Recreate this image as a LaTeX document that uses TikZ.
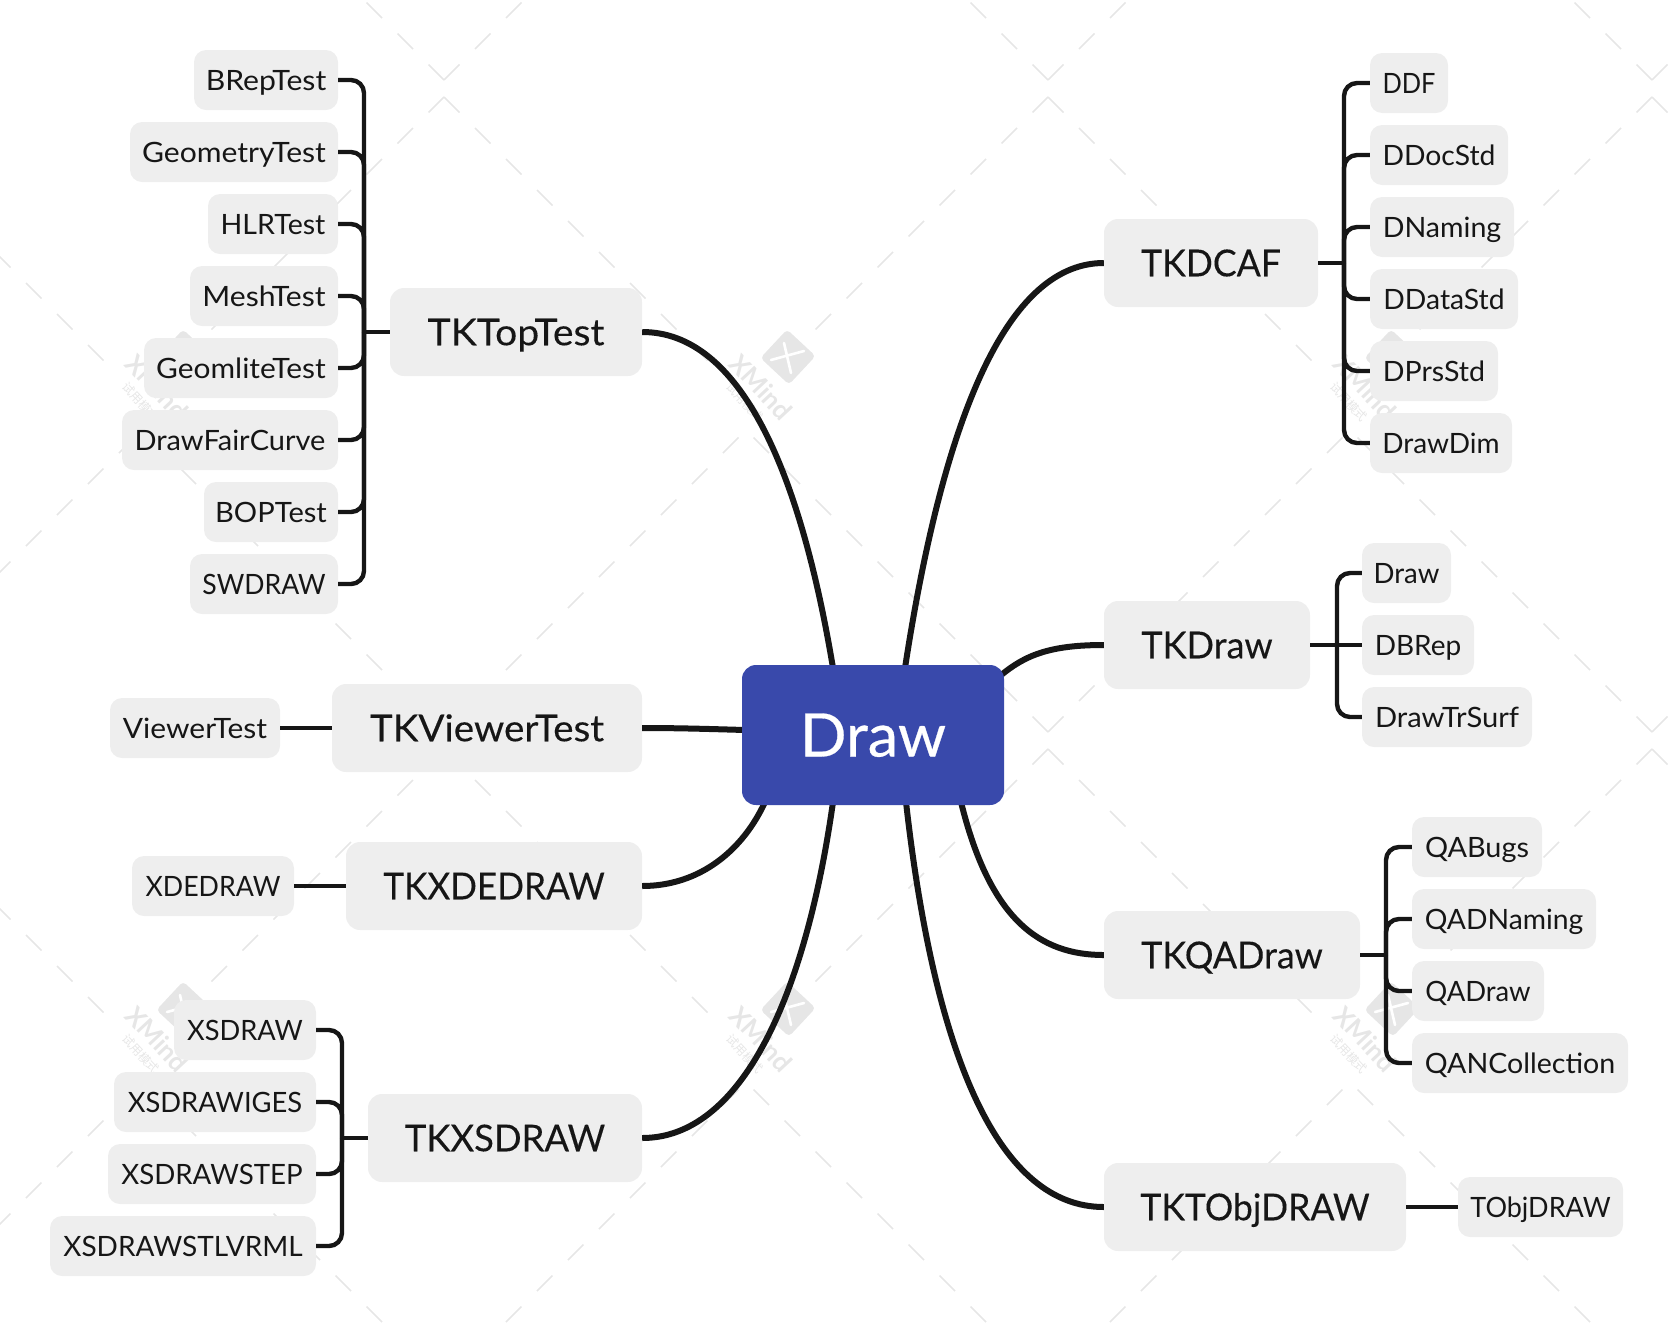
\documentclass[tikz,border=0pt]{standalone}
\usepackage{fontspec}
\setmainfont{Lato}
\newfontfamily\cjkwm{Noto Sans CJK SC}
\newfontfamily\rootfont{Lato}[FakeBold=0.5]
\newfontfamily\mainfontb{Lato}[FakeBold=0.15]
\definecolor{nodegray}{HTML}{EEEEEE}
\definecolor{inkdark}{HTML}{161616}
\definecolor{rootblue}{HTML}{3949AB}
\definecolor{wmgray}{HTML}{E6E6E6}
\tikzset{
  subnode/.style={fill=nodegray,rounded corners=12pt,inner sep=0pt,text=inkdark,text height=20pt,text depth=0pt,font=\fontsize{28}{32}\selectfont},
  mainnode/.style={fill=nodegray,rounded corners=14pt,inner sep=0pt,text=inkdark,text height=26.5pt,text depth=0pt,font=\fontsize{37}{42}\mainfontb},
  rootnode/.style={fill=rootblue,rounded corners=14pt,inner sep=0pt,text=white,text height=43pt,text depth=0pt,font=\fontsize{60}{66}\rootfont},
  trunk/.style={draw=inkdark,line width=4.4pt,rounded corners=13pt},
  stub/.style={draw=inkdark,line width=4.4pt},
  limb/.style={draw=inkdark,line width=6pt},
  wmdash/.style={draw=wmgray,line width=1.6pt}
}
\newcommand{\sx}[2]{\scalebox{#1}[1]{#2}}
\newcommand{\nd}[7]{%
  \pgfmathsetmacro{\nw}{#4-#2}\pgfmathsetmacro{\nh}{#5-#3}%
  \pgfmathsetmacro{\ncx}{(#2+#4)/2}\pgfmathsetmacro{\ncy}{(#3+#5)/2}%
  \node[#6,minimum width=\nw pt,minimum height=\nh pt] (#1) at (\ncx,\ncy) {#7};%
}
\begin{document}
\begin{tikzpicture}[x=1pt,y=-1pt]
\useasboundingbox (0,0) rectangle (1678,1326);
% watermark
\begin{scope}
\clip (0,0) rectangle (1678,1326);
\foreach \cx in {-160,444,1048,1652}{
  \foreach \cy in {88,740,1392}{
    \foreach \k in {0,...,8}{
      \pgfmathsetmacro{\dd}{31*\k}
      \draw[wmdash] (\cx+\dd,\cy+9+\dd) -- ++(15.5,15.5);
      \draw[wmdash] (\cx-\dd,\cy+9+\dd) -- ++(-15.5,15.5);
    }
    \foreach \k in {0,...,9}{
      \pgfmathsetmacro{\dd}{31*\k}
      \draw[wmdash] (\cx+\dd,\cy-8-\dd) -- ++(15.5,-15.5);
      \draw[wmdash] (\cx-\dd,\cy-8-\dd) -- ++(-15.5,-15.5);
    }
  }
}
\foreach \lx in {184,788,1392}{
  \foreach \ly in {357,1009}{
    \node[fill=wmgray,rounded corners=4pt,rotate=47,minimum width=39pt,minimum height=39pt,inner sep=0pt] (logo\lx-\ly) at (\lx,\ly) {};
    \draw[white,line width=2.6pt,line cap=round] (\lx-17,\ly+3) -- (\lx+16,\ly-6);
    \draw[white,line width=2.6pt,line cap=round] (\lx-4,\ly-14) -- (\lx+3,\ly+16);
    \node[text=wmgray,rotate=-47,font=\fontsize{26}{28}\selectfont\bfseries,inner sep=0pt] (wmname\lx-\ly) at (\lx-27,\ly+30) {XMind};
    \node[text=wmgray,rotate=-47,font=\fontsize{12}{14}\cjkwm,inner sep=0pt] (wmsub\lx-\ly) at (\lx-43,\ly+45) {试用模式};
  }
}
\end{scope}
% junctions
\coordinate (topj) at (364,332);
\coordinate (dcafj) at (1344,263);
\coordinate (drwj) at (1337,645);
\coordinate (qaj) at (1386,955);
\coordinate (xsj) at (342,1138);
% main nodes
\nd{mtop}{390}{288}{642}{376}{mainnode}{\sx{1.058}{TKTopTest}}
\nd{mview}{332}{684}{642}{772}{mainnode}{\sx{1.043}{TKViewerTest}}
\nd{mxde}{346}{842}{642}{930}{mainnode}{\sx{.95}{TKXDEDRAW}}
\nd{mxs}{368}{1094}{642}{1182}{mainnode}{\sx{.984}{TKXSDRAW}}
\nd{mdcaf}{1104}{219}{1318}{307}{mainnode}{\sx{.963}{TKDCAF}}
\nd{mdrw}{1104}{601}{1310}{689}{mainnode}{\sx{.976}{TKDraw}}
\nd{mqa}{1104}{911}{1360}{999}{mainnode}{\sx{.971}{TKQADraw}}
\nd{mtobj}{1104}{1163}{1406}{1251}{mainnode}{\sx{.96}{TKTObjDRAW}}
% limbs
\draw[limb] (mtop.east) .. controls (740,332) and (800,470) .. (833,668);
\draw[limb] (mdcaf.west) .. controls (1000,263) and (940,440) .. (905,668);
\draw[limb] (mdrw.west) .. controls (1050,645) and (1025,655) .. (1000,676);
\draw[limb] (mview.east) .. controls (680,728) and (710,729) .. (745,730);
\draw[limb] (mxde.east) .. controls (700,886) and (743,850) .. (765,802);
\draw[limb] (mxs.east) .. controls (740,1138) and (805,1000) .. (833,802);
\draw[limb] (mqa.west) .. controls (1040,955) and (990,920) .. (961,802);
\draw[limb] (mtobj.west) .. controls (1000,1207) and (935,1060) .. (906,802);
\nd{root}{742}{665}{1004}{805}{rootnode}{\sx{1.02}{Draw}}
% left leaves
\nd{a1}{194}{50}{338}{110}{subnode}{\sx{1.077}{BRepTest}}
\nd{a2}{130}{122}{338}{182}{subnode}{\sx{1.075}{GeometryTest}}
\nd{a3}{208}{194}{338}{254}{subnode}{\sx{1.02}{HLRTest}}
\nd{a4}{190}{266}{338}{326}{subnode}{\sx{1.075}{MeshTest}}
\nd{a5}{144}{338}{338}{398}{subnode}{\sx{1.068}{GeomliteTest}}
\nd{a6}{122}{410}{338}{470}{subnode}{\sx{1.035}{DrawFairCurve}}
\nd{a7}{204}{482}{338}{542}{subnode}{\sx{1.04}{BOPTest}}
\nd{a8}{190}{554}{338}{614}{subnode}{\sx{.95}{SWDRAW}}
\foreach \n in {a1,a2,a3,a4,a5,a6,a7,a8}{\draw[trunk] (\n.east) -| (topj);}
\draw[stub] (mtop.west) -- (topj);
\nd{v1}{110}{698}{280}{758}{subnode}{\sx{1.07}{ViewerTest}}
\draw[stub] (v1.east) -- (mview.west);
\nd{x1}{132}{856}{294}{916}{subnode}{\sx{.955}{XDEDRAW}}
\draw[stub] (x1.east) -- (mxde.west);
\nd{s1}{174}{1000}{316}{1060}{subnode}{\sx{.973}{XSDRAW}}
\nd{s2}{114}{1072}{316}{1132}{subnode}{\sx{.976}{XSDRAWIGES}}
\nd{s3}{108}{1144}{316}{1204}{subnode}{\sx{.988}{XSDRAWSTEP}}
\nd{s4}{50}{1216}{316}{1276}{subnode}{XSDRAWSTLVRML}
\foreach \n in {s1,s2,s3,s4}{\draw[trunk] (\n.east) -| (xsj);}
\draw[stub] (mxs.west) -- (xsj);
% right leaves
\nd{d1}{1370}{53}{1448}{113}{subnode}{\sx{.906}{DDF}}
\nd{d2}{1370}{125}{1508}{185}{subnode}{\sx{1.01}{DDocStd}}
\nd{d3}{1370}{197}{1514}{257}{subnode}{\sx{1.02}{DNaming}}
\nd{d4}{1370}{269}{1518}{329}{subnode}{\sx{1.01}{DDataStd}}
\nd{d5}{1370}{341}{1498}{401}{subnode}{\sx{1.02}{DPrsStd}}
\nd{d6}{1370}{413}{1512}{473}{subnode}{DrawDim}
\foreach \n in {d1,d2,d3,d4,d5,d6}{\draw[trunk] (\n.west) -| (dcafj);}
\draw[stub] (mdcaf.east) -- (dcafj);
\nd{r1}{1362}{543}{1451}{603}{subnode}{\sx{.985}{Draw}}
\nd{r2}{1362}{615}{1474}{675}{subnode}{DBRep}
\nd{r3}{1362}{687}{1532}{747}{subnode}{\sx{1.04}{DrawTrSurf}}
\foreach \n in {r1,r3}{\draw[trunk] (\n.west) -| (drwj);}
\draw[stub] (mdrw.east) -- (r2.west);
\nd{q1}{1412}{817}{1542}{877}{subnode}{\sx{1.03}{QABugs}}
\nd{q2}{1412}{889}{1596}{949}{subnode}{\sx{1.01}{QADNaming}}
\nd{q3}{1412}{961}{1544}{1021}{subnode}{\sx{.98}{QADraw}}
\nd{q4}{1412}{1033}{1628}{1093}{subnode}{\sx{1.02}{QANCollection}}
\foreach \n in {q1,q2,q3,q4}{\draw[trunk] (\n.west) -| (qaj);}
\draw[stub] (mqa.east) -- (qaj);
\nd{t1}{1458}{1177}{1623}{1237}{subnode}{\sx{.963}{TObjDRAW}}
\draw[stub] (mtobj.east) -- (t1.west);
\end{tikzpicture}
\end{document}
